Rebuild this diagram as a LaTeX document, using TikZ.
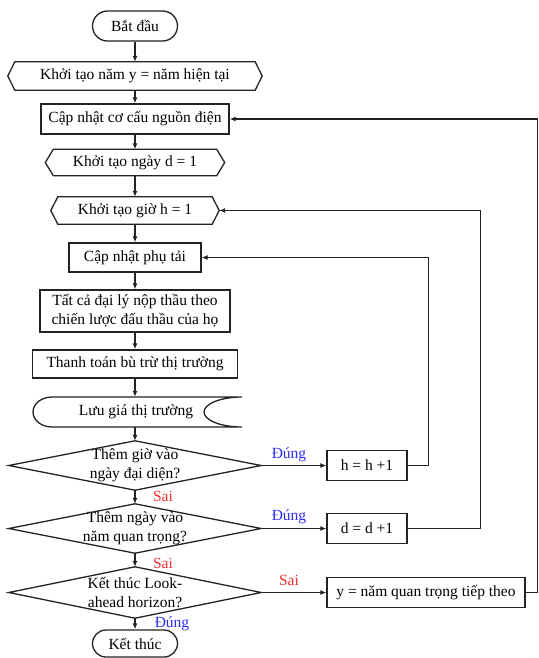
\documentclass[tikz,border=0pt]{standalone}
\usepackage{fontspec}
\setmainfont{Liberation Serif}
\usetikzlibrary{arrows.meta,calc}
\definecolor{ln}{RGB}{35,35,35}
\definecolor{yescol}{RGB}{45,45,240}
\definecolor{nocol}{RGB}{240,45,45}
\begin{document}
\begin{tikzpicture}[x=1pt,y=-1pt,
  font=\fontsize{15.5}{18.8}\selectfont,
  box/.style={draw=ln, line width=1.3pt, rectangle, inner sep=0pt, align=center},
  txt/.style={inner sep=0pt, align=center},
  lne/.style={draw=ln, line width=1.3pt, line join=miter},
  arr/.style={draw=ln, line width=1.3pt, -{Latex[length=6pt,width=5pt]}},
  yeslab/.style={text=yescol, inner sep=0pt},
  nolab/.style={text=nocol, inner sep=0pt}]
\useasboundingbox (0,0) rectangle (538,658);

% terminals
\node[box, minimum width=85pt, minimum height=30pt, rounded corners=15pt] (start) at (135,26) {Bắt đầu};
\node[box, minimum width=85pt, minimum height=27pt, rounded corners=13.5pt] (stop) at (135,643.5) {Kết thúc};

% hexagons
\node[txt, minimum width=254pt, minimum height=28pt] (year) at (135,76) {Khởi tạo năm y = năm hiện tại};
\draw[lne] (year.west) -- ([xshift=7pt]year.north west) -- ([xshift=-7pt]year.north east) -- (year.east) -- ([xshift=-7pt]year.south east) -- ([xshift=7pt]year.south west) -- cycle;

\node[box, minimum width=188pt, minimum height=30pt] (src) at (135,119) {Cập nhật cơ cấu nguồn điện};

\node[txt, minimum width=179pt, minimum height=26pt] (day) at (135,162.5) {Khởi tạo ngày d = 1};
\draw[lne] (day.west) -- ([xshift=8pt]day.north west) -- ([xshift=-8pt]day.north east) -- (day.east) -- ([xshift=-8pt]day.south east) -- ([xshift=8pt]day.south west) -- cycle;

\node[txt, minimum width=168pt, minimum height=27pt] (hour) at (135,210.5) {Khởi tạo giờ h = 1};
\draw[lne] (hour.west) -- ([xshift=7pt]hour.north west) -- ([xshift=-7pt]hour.north east) -- (hour.east) -- ([xshift=-7pt]hour.south east) -- ([xshift=7pt]hour.south west) -- cycle;

% process boxes
\node[box, minimum width=132pt, minimum height=29pt] (load) at (135,257.5) {Cập nhật phụ tải};
\node[box, minimum width=190pt, minimum height=42pt] (bid) at (135,311) {Tất cả đại lý nộp thầu theo\\chiến lược đấu thầu của họ};
\node[box, minimum width=205pt, minimum height=28pt] (settle) at (135,364) {Thanh toán bù trừ thị trường};

% stored data
\node[txt, minimum width=209pt, minimum height=30pt] (store) at (137.5,412) {};
\node[txt] (storetext) at (136,412) {Lưu giá thị trường};
\draw[lne] (52,397) -- (242,397) .. controls (221,397) and (204,403.7) .. (204,412)
  .. controls (204,420.3) and (221,427) .. (242,427) -- (52,427)
  .. controls (41.5,427) and (33,420.3) .. (33,412)
  .. controls (33,403.7) and (41.5,397) .. (52,397) -- cycle;

% decisions
\node[txt, minimum width=252pt, minimum height=49pt] (d1) at (135,465.5) {Thêm giờ vào\\ngày đại diện?};
\draw[lne] (d1.west) -- (d1.north) -- (d1.east) -- (d1.south) -- cycle;
\node[txt, minimum width=252pt, minimum height=49pt] (d2) at (135,528.5) {Thêm ngày vào\\năm quan trọng?};
\draw[lne] (d2.west) -- (d2.north) -- (d2.east) -- (d2.south) -- cycle;
\node[txt, minimum width=252pt, minimum height=51pt] (d3) at (135,592.5) {Kết thúc Look-\\ahead horizon?};
\draw[lne] (d3.west) -- (d3.north) -- (d3.east) -- (d3.south) -- cycle;

% right boxes
\node[box, minimum width=80pt, minimum height=30pt] (hinc) at (367,465.5) {h = h +1};
\node[box, minimum width=80pt, minimum height=30pt] (dinc) at (367,528.5) {d = d +1};
\node[box, minimum width=198pt, minimum height=30pt] (ynext) at (426,592.5) {y = năm quan trọng tiếp theo};

% main flow
\draw[arr] (start.south) -- (start.south |- year.north);
\draw[arr] (year.south) -- (year.south |- src.north);
\draw[arr] (src.south) -- (src.south |- day.north);
\draw[arr] (day.south) -- (day.south |- hour.north);
\draw[arr] (hour.south) -- (hour.south |- load.north);
\draw[arr] (load.south) -- (load.south |- bid.north);
\draw[arr] (bid.south) -- (bid.south |- settle.north);
\draw[arr] (settle.south) -- (settle.south |- store.north);
\draw[arr] (settle.south |- store.south) -- (d1.north);
\draw[arr] (d1.south) -- (d2.north);
\draw[arr] (d2.south) -- (d3.north);
\draw[arr] (d3.south) -- (stop.north);

% branches
\draw[arr] (d1.east) -- (hinc.west);
\draw[arr] (d2.east) -- (dinc.west);
\draw[arr] (d3.east) -- (ynext.west);

% loops
\draw[arr] (hinc.east) -- ++(21,0) |- (load.east);
\draw[arr] (dinc.east) -- ++(73,0) |- (hour.east);
\draw[arr] (ynext.east) -- ++(11.5,0) |- (src.east);

% labels
\node[yeslab] (l1) at (289,455) {Đúng};
\node[yeslab] (l2) at (289,517) {Đúng};
\node[nolab] (l3) at (289,580) {Sai};
\node[nolab] (l4) at (163,496) {Sai};
\node[nolab] (l5) at (163,563) {Sai};
\node[yeslab] (l6) at (172,624) {Đúng};
\end{tikzpicture}
\end{document}
